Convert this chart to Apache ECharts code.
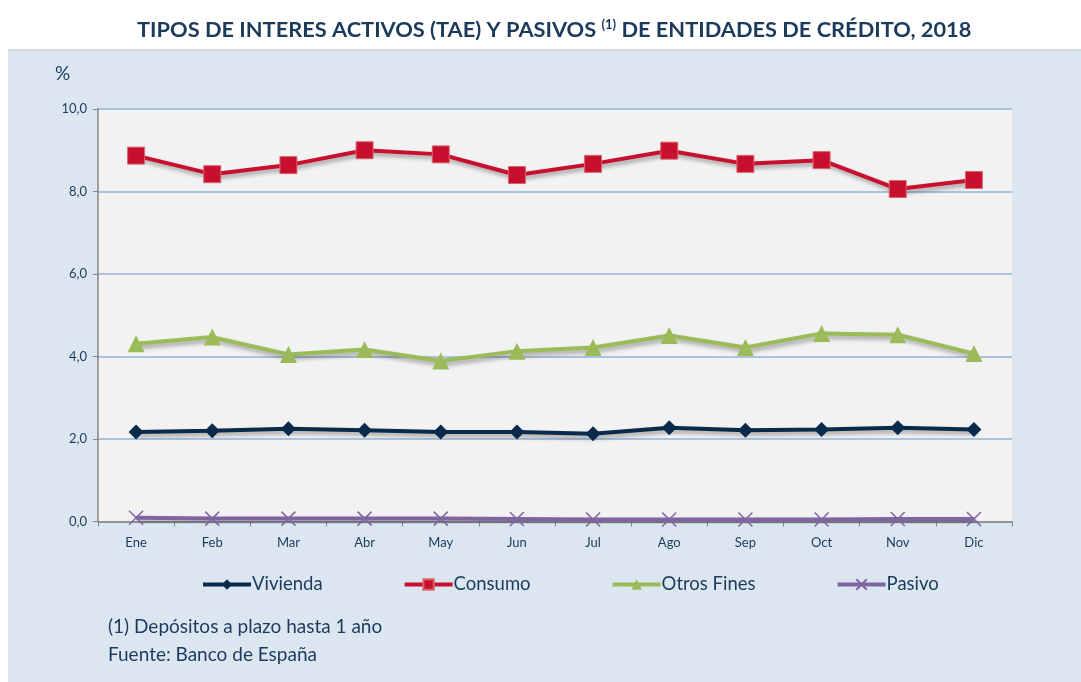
<!DOCTYPE html>
<html>
<head>
<meta charset="utf-8">
<script src="https://cdn.jsdelivr.net/npm/echarts@6/dist/echarts.min.js"></script>
<style>
html,body{margin:0;padding:0;background:#ffffff;}
#chart{width:1081px;height:682px;}
</style>
</head>
<body>
<div id="chart"></div>
<script>
const categories = ['Ene','Feb','Mar','Abr','May','Jun','Jul','Ago','Sep','Oct','Nov','Dic'];
const vivienda = [2.17,2.20,2.25,2.21,2.17,2.17,2.13,2.27,2.21,2.23,2.27,2.23];
const consumo = [8.87,8.42,8.64,9.00,8.90,8.40,8.67,8.99,8.67,8.76,8.06,8.28];
const otrosFines = [4.31,4.47,4.05,4.17,3.89,4.13,4.22,4.51,4.22,4.56,4.53,4.07];
const pasivo = [0.09,0.07,0.07,0.07,0.07,0.06,0.05,0.05,0.05,0.05,0.06,0.06];
const yTicks = [0,2,4,6,8,10];

const FONT = 'Lato';
const NAVY = '#1b3a5c';
const shadow = {shadowColor:'rgba(0,0,0,0.35)', shadowBlur:4, shadowOffsetX:2, shadowOffsetY:3};

function mkSeries(name, data, color, symbol, size, extraItem){
  return {
    name, type:'line', data, symbol, symbolSize:size,
    lineStyle:Object.assign({color, width:4}, shadow),
    itemStyle:Object.assign({color}, extraItem||{}),
    emphasis:{disabled:true}, z:3
  };
}

const chart = echarts.init(document.getElementById('chart'), null, {renderer:'canvas'});
chart.setOption({
  animation:false,
  backgroundColor:'#ffffff',
  textStyle:{fontFamily:FONT},
  title:{
    text:'TIPOS DE INTERES ACTIVOS (TAE) Y PASIVOS {sup|(1)} DE ENTIDADES DE CRÉDITO, 2018',
    left:132, top:13,
    textStyle:{fontFamily:FONT, fontSize:21.8, fontWeight:'bold', color:NAVY,
      rich:{sup:{fontFamily:FONT, fontSize:13, fontWeight:'bold', color:NAVY, verticalAlign:'top', padding:[0,0,10,0]}}}
  },
  graphic:[
    {type:'rect', z:-10, shape:{x:8, y:50, width:1073, height:632}, style:{fill:'#dce6f1'}},
    {type:'rect', z:-9, shape:{x:8, y:49, width:1073, height:2}, style:{fill:'#d5d9de'}},
    {type:'text', left:55, top:64, style:{text:'%', font:'19px '+FONT, fill:NAVY}},
    {type:'text', left:108, top:617, style:{text:'(1) Depósitos a plazo hasta 1 año', font:'19px '+FONT, fill:NAVY}},
    {type:'text', left:108, top:645, style:{text:'Fuente: Banco de España', font:'19px '+FONT, fill:NAVY}}
  ],
  grid:{left:98, top:109, right:69, bottom:160.5, show:true, backgroundColor:'#f2f2f2', borderWidth:0},
  legend:{
    top:575, left:201, padding:0, itemWidth:48, itemHeight:13, itemGap:80,
    lineStyle:{width:4},
    textStyle:{fontFamily:FONT, fontSize:18.5, color:NAVY, padding:[0,0,0,-4]},
    data:['Vivienda','Consumo','Otros Fines','Pasivo']
  },
  xAxis:{
    type:'category', data:categories, boundaryGap:true,
    axisLine:{lineStyle:{color:'#868686', width:1.5}},
    axisTick:{show:true, inside:false, length:5, lineStyle:{color:'#868686'}},
    axisLabel:{fontFamily:FONT, fontSize:13, color:NAVY, margin:15}
  },
  yAxis:{
    type:'value', min:0, max:10, interval:2,
    axisLine:{show:true, lineStyle:{color:'#868686', width:1.5}},
    axisTick:{show:true, length:5, lineStyle:{color:'#868686'}},
    axisLabel:{fontFamily:FONT, fontSize:13, color:NAVY, margin:11,
      formatter:function(v){return yTicks.indexOf(v)>=0 ? v.toFixed(1).replace('.',',') : '';}},
    splitLine:{show:true, lineStyle:{color:'#95b3d7', width:1.5}}
  },
  series:[
    mkSeries('Vivienda', vivienda, '#0a2a4b', 'diamond', 15),
    mkSeries('Consumo', consumo, '#c8102e', 'rect', 17, {borderColor:'#d9646f', borderWidth:1}),
    mkSeries('Otros Fines', otrosFines, '#9bbb59', 'triangle', 17),
    {
      name:'Pasivo', type:'line', data:pasivo,
      symbol:'path://M0,0L10,10M10,0L0,10', symbolSize:14,
      lineStyle:Object.assign({color:'#8064a2', width:4}, shadow),
      itemStyle:{color:'#8064a2', borderColor:'#8064a2', borderWidth:1.5},
      emphasis:{disabled:true}, z:3
    }
  ]
});
</script>
</body>
</html>
